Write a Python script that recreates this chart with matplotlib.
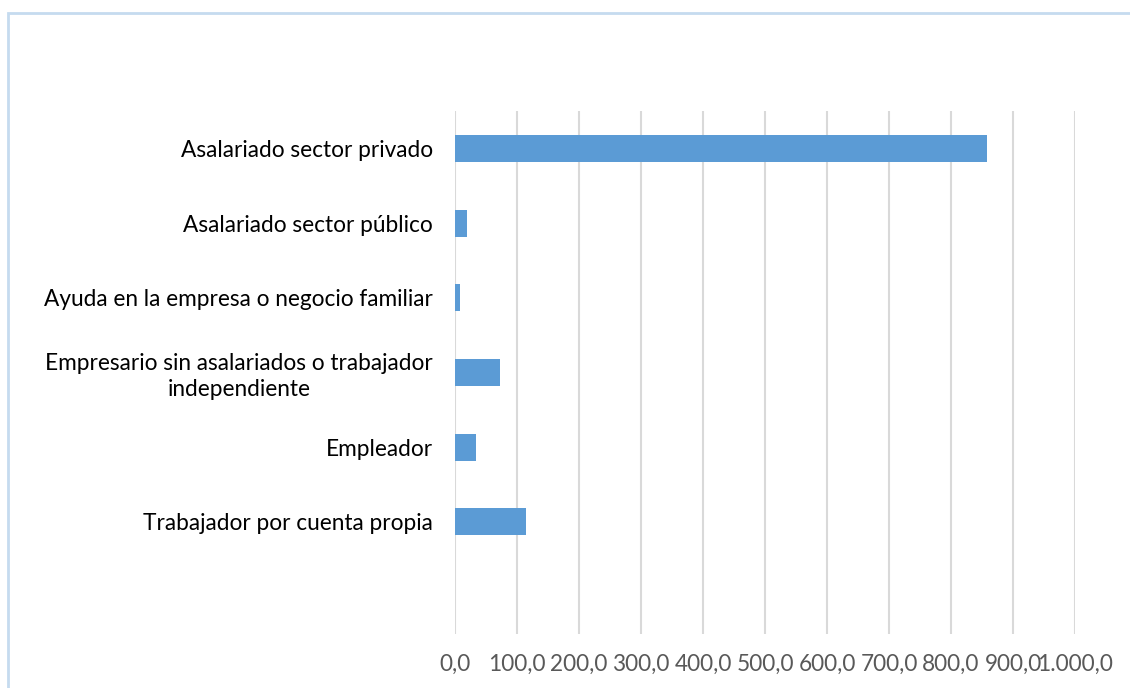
import matplotlib.pyplot as plt
from matplotlib.patches import Rectangle
from matplotlib.ticker import FuncFormatter

# categories, top to bottom
categorias = [
    "Asalariado sector privado",
    "Asalariado sector público",
    "Ayuda en la empresa o negocio familiar",
    "Empresario sin asalariados o trabajador\nindependiente",
    "Empleador",
    "Trabajador por cuenta propia",
]
valores = [858.0, 19.3, 8.6, 72.5, 33.3, 114.5]
x_ticks = [0, 100, 200, 300, 400, 500, 600, 700, 800, 900, 1000]

plt.rcParams['font.family'] = ['Lato', 'DejaVu Sans']

fig = plt.figure(figsize=(11.3, 6.88), dpi=100)
ax = fig.add_axes([455 / 1130, 1 - 634 / 688, 620 / 1130, 523 / 688])

pos = list(range(len(categorias)))
ax.barh(pos, valores, height=0.36, color="#5B9BD5", zorder=3)

ax.set_xlim(0, 1000)
ax.set_ylim(len(categorias) + 0.5, -0.5)
ax.set_yticks(pos)
ax.set_yticklabels(categorias, ha="right", multialignment="center",
                   linespacing=1.25)
ax.set_xticks(x_ticks)


def fmt(v, p):
    s = f"{v:,.1f}"
    return s.replace(",", "X").replace(".", ",").replace("X", ".")


ax.xaxis.set_major_formatter(FuncFormatter(fmt))
ax.grid(axis="x", color="#d9d9d9", linewidth=1.5, zorder=0)
for s in ax.spines.values():
    s.set_visible(False)
ax.tick_params(axis="y", length=0, pad=16, labelsize=16.3, labelcolor="#000000")
ax.tick_params(axis="x", length=0, pad=14, labelsize=16.3, labelcolor="#595959")

# outer chart border (cropped at right/bottom)
fig.patches.append(Rectangle((8 / 1130, -0.2), 1.5, 1 - 13 / 688 + 0.2,
                             transform=fig.transFigure, fill=False,
                             edgecolor="#c5dbef", linewidth=2))

fig.savefig("out.png", dpi=100)
